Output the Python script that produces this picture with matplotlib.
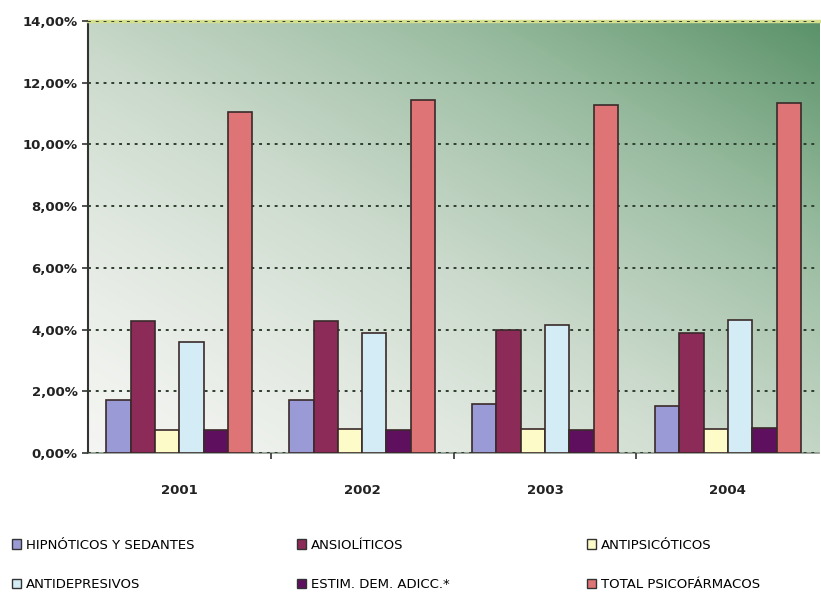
import numpy as np
import matplotlib
matplotlib.use("Agg")
import matplotlib.pyplot as plt
from matplotlib.colors import LinearSegmentedColormap
from matplotlib.patches import Patch
from matplotlib.ticker import FuncFormatter, MultipleLocator

years = ["2001", "2002", "2003", "2004"]
series = [
    "HIPNÓTICOS Y SEDANTES",
    "ANSIOLÍTICOS",
    "ANTIPSICÓTICOS",
    "ANTIDEPRESIVOS",
    "ESTIM. DEM. ADICC.*",
    "TOTAL PSICOFÁRMACOS",
]
hipnoticos = [1.70, 1.70, 1.58, 1.52]
ansioliticos = [4.27, 4.26, 3.99, 3.89]
antipsicoticos = [0.74, 0.77, 0.78, 0.78]
antidepresivos = [3.58, 3.90, 4.14, 4.30]
estimulantes = [0.74, 0.75, 0.74, 0.81]
total = [11.05, 11.43, 11.27, 11.34]

values = [hipnoticos, ansioliticos, antipsicoticos, antidepresivos, estimulantes, total]
colors = ["#9a9ad6", "#8c2a58", "#fdfbc8", "#d4ecf6", "#5e0f5e", "#de7476"]

fig = plt.figure(figsize=(8.21, 5.96), dpi=100)
ax = fig.add_axes([0.107, 0.240, 0.891, 0.725])

# diagonal green gradient behind the bars
n = 300
gx, gy = np.meshgrid(np.linspace(0, 1, n), np.linspace(0, 1, n))
t = np.clip((0.5 * gx + 0.5 * gy) ** 1.4, 0, 1)
cmap = LinearSegmentedColormap.from_list(
    "bg", ["#f4f5f2", "#cbdacc", "#98bb9f", "#5a9268"])
ax.imshow(t, cmap=cmap, origin="lower", extent=[0, 1, 0, 1],
          transform=ax.transAxes, aspect="auto", zorder=0, vmin=0, vmax=1)

x = np.arange(len(years))
width = 0.133
for i, (vals, col) in enumerate(zip(values, colors)):
    offset = (i - 2.5) * width
    ax.bar(x + offset, vals, width, color=col, edgecolor="#3a2a2a",
           linewidth=1.2, zorder=3, label=series[i])

ax.set_xlim(-0.5, 3.5)
ax.set_ylim(0, 14)
ax.yaxis.set_major_locator(MultipleLocator(2))
ax.yaxis.set_major_formatter(FuncFormatter(lambda v, p: f"{v:.2f}%".replace(".", ",")))
ax.grid(axis="y", color="#2f3f2f", linestyle=(0, (1.5, 2.5)), linewidth=1.4, zorder=1)
ax.set_axisbelow(False)

ax.set_xticks(x, years)
ax.set_xticks([0.5, 1.5, 2.5], minor=True)
ax.tick_params(axis="x", which="major", length=0, pad=22, labelsize=9.5)
ax.tick_params(axis="x", which="minor", length=4, width=1.2, color="#333333")
ax.tick_params(axis="y", length=4, width=1.2, color="#333333", labelsize=9.5)
for lbl in ax.get_yticklabels() + ax.get_xticklabels():
    lbl.set_fontweight("bold")
    lbl.set_color("#222222")

ax.spines["left"].set_color("#333333")
ax.spines["left"].set_linewidth(1.5)
ax.spines["bottom"].set_color("#8a968a")
ax.spines["bottom"].set_linewidth(1.2)
ax.spines["top"].set_color("#d6df8e")
ax.spines["top"].set_linewidth(2.5)
ax.spines["right"].set_visible(False)

# legend laid out as three columns, two rows
columns = [(0, 3, 0.008), (1, 4, 0.355), (2, 5, 0.708)]
for a, b, xpos in columns:
    handles = [Patch(facecolor=colors[k], edgecolor="#333333", linewidth=1.0)
               for k in (a, b)]
    fig.legend(handles, [series[a], series[b]], loc="upper left",
               bbox_to_anchor=(xpos, 0.105), frameon=False, fontsize=9.5,
               handlelength=0.7, handleheight=0.7, handletextpad=0.4,
               labelspacing=2.0, borderaxespad=0)

fig.savefig("out.png", dpi=100)
